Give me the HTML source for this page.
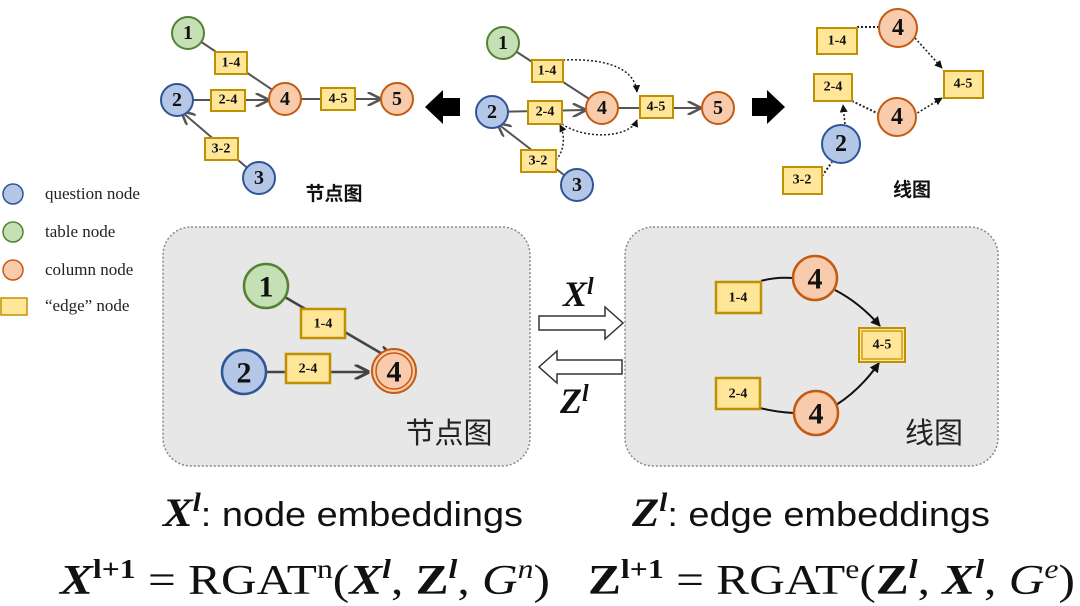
<!DOCTYPE html>
<html><head><meta charset="utf-8"><style>
html,body{margin:0;padding:0;background:#fff;}
svg{display:block;}
.n{font-family:"Liberation Serif",serif;font-weight:bold;text-anchor:middle;dominant-baseline:central;fill:#111;}
.e{font-family:"Liberation Serif",serif;font-weight:bold;text-anchor:middle;dominant-baseline:central;fill:#111;font-size:14px;}
.lg{font-family:"Liberation Serif",serif;font-size:17px;fill:#222;}
.cn{font-family:"Liberation Sans","Noto Sans CJK SC",sans-serif;}
.m{font-family:"Liberation Serif",serif;}
</style></head><body>
<svg width="1080" height="606" viewBox="0 0 1080 606">
<defs>
<marker id="ag" viewBox="0 0 10 10" refX="9" refY="5" markerWidth="7" markerHeight="7" orient="auto"><path d="M0,0 L10,5 L0,10" fill="none" stroke="#555" stroke-width="1.8"/></marker>
<marker id="ab" viewBox="0 0 10 10" refX="9" refY="5" markerWidth="5" markerHeight="5" orient="auto"><path d="M0,0 L10,5 L0,10 z" fill="#111"/></marker>
<marker id="ag2" viewBox="0 0 10 10" refX="9" refY="5" markerWidth="6" markerHeight="6" orient="auto"><path d="M0,0 L10,5 L0,10" fill="none" stroke="#444" stroke-width="2"/></marker>
</defs>

<g>
<circle cx="13" cy="194" r="10" fill="#b4c7e7" stroke="#2f5597" stroke-width="1.5"/><text class="lg" x="45" y="199">question node</text>
<circle cx="13" cy="232" r="10" fill="#c5e0b4" stroke="#548235" stroke-width="1.5"/><text class="lg" x="45" y="237">table node</text>
<circle cx="13" cy="270" r="10" fill="#f8cbad" stroke="#c55a11" stroke-width="1.5"/><text class="lg" x="45" y="275">column node</text>
<rect x="1" y="298" width="26" height="17" fill="#ffe699" stroke="#bf9000" stroke-width="1.5"/><text class="lg" x="45" y="311">“edge” node</text>
</g>

<g stroke-width="2">
<line x1="188" y1="33" x2="283" y2="97" stroke="#555" marker-end="url(#ag)"/>
<line x1="177" y1="100" x2="268" y2="100" stroke="#555" marker-end="url(#ag)"/>
<line x1="285" y1="99" x2="380" y2="99" stroke="#555" marker-end="url(#ag)"/>
<line x1="259" y1="178" x2="182" y2="112" stroke="#555" marker-end="url(#ag)"/>
<rect x="215" y="52" width="32" height="22" fill="#ffe699" stroke="#bf9000"/><text class="e" x="231" y="63">1-4</text>
<rect x="211" y="90" width="34" height="21" fill="#ffe699" stroke="#bf9000"/><text class="e" x="228" y="100">2-4</text>
<rect x="321" y="88" width="34" height="22" fill="#ffe699" stroke="#bf9000"/><text class="e" x="338" y="99">4-5</text>
<rect x="205" y="138" width="33" height="22" fill="#ffe699" stroke="#bf9000"/><text class="e" x="221" y="149">3-2</text>
<circle cx="188" cy="33" r="16" fill="#c5e0b4" stroke="#548235"/><text class="n" x="188" y="33" font-size="20">1</text>
<circle cx="177" cy="100" r="16" fill="#b4c7e7" stroke="#2f5597"/><text class="n" x="177" y="100" font-size="20">2</text>
<circle cx="259" cy="178" r="16" fill="#b4c7e7" stroke="#2f5597"/><text class="n" x="259" y="178" font-size="20">3</text>
<circle cx="285" cy="99" r="16" fill="#f8cbad" stroke="#c55a11"/><text class="n" x="285" y="99" font-size="20">4</text>
<circle cx="397" cy="99" r="16" fill="#f8cbad" stroke="#c55a11"/><text class="n" x="397" y="99" font-size="20">5</text>
<text class="cn" x="334" y="200" font-size="19" font-weight="bold" text-anchor="middle" stroke="none" fill="#111">节点图</text>
</g>
<path d="M425,107 L443,90 L443,98 L460,98 L460,116 L443,116 L443,124 z" fill="#000"/>

<g stroke-width="2">
<line x1="503" y1="43" x2="600" y2="106" stroke="#555" marker-end="url(#ag)"/>
<line x1="492" y1="112" x2="585" y2="110" stroke="#555" marker-end="url(#ag)"/>
<line x1="602" y1="108" x2="700" y2="108" stroke="#555" marker-end="url(#ag)"/>
<line x1="577" y1="185" x2="498" y2="124" stroke="#555" marker-end="url(#ag)"/>
<path d="M563,60 C610,58 635,70 637,92" fill="none" stroke="#222" stroke-width="1.5" stroke-dasharray="2,2" marker-end="url(#ab)"/>
<path d="M562,124 C585,140 630,138 637,120" fill="none" stroke="#222" stroke-width="1.5" stroke-dasharray="2,2" marker-end="url(#ab)"/>
<path d="M556,160 C565,150 565,135 560,125" fill="none" stroke="#222" stroke-width="1.5" stroke-dasharray="2,2" marker-end="url(#ab)"/>
<rect x="532" y="60" width="31" height="22" fill="#ffe699" stroke="#bf9000"/><text class="e" x="547" y="71">1-4</text>
<rect x="528" y="101" width="34" height="23" fill="#ffe699" stroke="#bf9000"/><text class="e" x="545" y="112">2-4</text>
<rect x="640" y="96" width="33" height="22" fill="#ffe699" stroke="#bf9000"/><text class="e" x="656" y="107">4-5</text>
<rect x="521" y="150" width="35" height="22" fill="#ffe699" stroke="#bf9000"/><text class="e" x="538" y="161">3-2</text>
<circle cx="503" cy="43" r="16" fill="#c5e0b4" stroke="#548235"/><text class="n" x="503" y="43" font-size="20">1</text>
<circle cx="492" cy="112" r="16" fill="#b4c7e7" stroke="#2f5597"/><text class="n" x="492" y="112" font-size="20">2</text>
<circle cx="577" cy="185" r="16" fill="#b4c7e7" stroke="#2f5597"/><text class="n" x="577" y="185" font-size="20">3</text>
<circle cx="602" cy="108" r="16" fill="#f8cbad" stroke="#c55a11"/><text class="n" x="602" y="108" font-size="20">4</text>
<circle cx="718" cy="108" r="16" fill="#f8cbad" stroke="#c55a11"/><text class="n" x="718" y="108" font-size="20">5</text>
</g>
<path d="M785,107 L767,90 L767,98 L752,98 L752,116 L767,116 L767,124 z" fill="#000"/>

<g stroke-width="2">
<line x1="857" y1="27" x2="882" y2="27" stroke="#222" stroke-dasharray="2,2"/>
<path d="M915,38 L942,68" stroke="#222" stroke-width="1.6" stroke-dasharray="2,2" marker-end="url(#ab)"/>
<path d="M914,115 L942,98" stroke="#222" stroke-width="1.6" stroke-dasharray="2,2" marker-end="url(#ab)"/>
<line x1="852" y1="101" x2="881" y2="115" stroke="#222" stroke-dasharray="2,2"/>
<path d="M845,124 L843,105" stroke="#222" stroke-width="1.6" stroke-dasharray="2,2" marker-end="url(#ab)"/>
<line x1="822" y1="176" x2="832" y2="162" stroke="#222" stroke-dasharray="2,2"/>
<rect x="817" y="28" width="40" height="26" fill="#ffe699" stroke="#bf9000"/><text class="e" x="837" y="41" font-size="17">1-4</text>
<rect x="814" y="74" width="38" height="27" fill="#ffe699" stroke="#bf9000"/><text class="e" x="833" y="87" font-size="17">2-4</text>
<rect x="944" y="71" width="39" height="27" fill="#ffe699" stroke="#bf9000"/><text class="e" x="963" y="84" font-size="17">4-5</text>
<rect x="783" y="167" width="39" height="27" fill="#ffe699" stroke="#bf9000"/><text class="e" x="802" y="180" font-size="17">3-2</text>
<circle cx="898" cy="28" r="19" fill="#f8cbad" stroke="#c55a11"/><text class="n" x="898" y="28" font-size="24">4</text>
<circle cx="897" cy="117" r="19" fill="#f8cbad" stroke="#c55a11"/><text class="n" x="897" y="117" font-size="24">4</text>
<circle cx="841" cy="144" r="19" fill="#b4c7e7" stroke="#2f5597"/><text class="n" x="841" y="144" font-size="24">2</text>
<text class="cn" x="912" y="196" font-size="19" font-weight="bold" text-anchor="middle" stroke="none" fill="#111">线图</text>
</g>

<g>
<rect x="163" y="227" width="367" height="239" rx="28" fill="#e7e7e7" stroke="#888" stroke-width="1.5" stroke-dasharray="2,2"/>
<line x1="266" y1="286" x2="391" y2="359" stroke="#444" stroke-width="2.5" marker-end="url(#ag2)"/>
<line x1="244" y1="372" x2="368" y2="372" stroke="#444" stroke-width="2.5" marker-end="url(#ag2)"/>
<rect x="301" y="309" width="44" height="29" fill="#ffe699" stroke="#bf9000" stroke-width="2.5"/><text class="e" x="323" y="324" font-size="21">1-4</text>
<rect x="286" y="354" width="44" height="29" fill="#ffe699" stroke="#bf9000" stroke-width="2.5"/><text class="e" x="308" y="369" font-size="21">2-4</text>
<circle cx="266" cy="286" r="22" fill="#c5e0b4" stroke="#548235" stroke-width="2.5"/><text class="n" x="266" y="287" font-size="30">1</text>
<circle cx="244" cy="372" r="22" fill="#b4c7e7" stroke="#2f5597" stroke-width="2.5"/><text class="n" x="244" y="373" font-size="30">2</text>
<circle cx="394" cy="371" r="22" fill="#f8cbad" stroke="#c55a11" stroke-width="2"/><circle cx="394" cy="371" r="18" fill="none" stroke="#c55a11" stroke-width="1.5"/><text class="n" x="394" y="372" font-size="30">4</text>
<text class="cn" x="449" y="443" font-size="29" text-anchor="middle" fill="#222">节点图</text>
</g>

<g>
<path d="M539,316 L605,316 L605,307 L623,323 L605,339 L605,330 L539,330 z" fill="#fff" stroke="#333" stroke-width="1.5"/>
<path d="M622,360 L557,360 L557,351 L539,367 L557,383 L557,374 L622,374 z" fill="#fff" stroke="#333" stroke-width="1.5"/>
<text class="m" x="563" y="306" font-size="36" font-weight="bold" font-style="italic" fill="#111">X<tspan font-size="24" dy="-12">l</tspan></text>
<text class="m" x="560" y="413" font-size="36" font-weight="bold" font-style="italic" fill="#111">Z<tspan font-size="24" dy="-12">l</tspan></text>
</g>

<g>
<rect x="625" y="227" width="373" height="239" rx="28" fill="#e7e7e7" stroke="#888" stroke-width="1.5" stroke-dasharray="2,2"/>
<path d="M761,281 Q775,277 793,278" fill="none" stroke="#111" stroke-width="2"/>
<path d="M760,408 Q775,412 794,413" fill="none" stroke="#111" stroke-width="2"/>
<path d="M835,290 Q860,303 880,326" fill="none" stroke="#111" stroke-width="2" marker-end="url(#ab)"/>
<path d="M836,405 Q860,390 879,363" fill="none" stroke="#111" stroke-width="2" marker-end="url(#ab)"/>
<rect x="716" y="282" width="45" height="31" fill="#ffe699" stroke="#bf9000" stroke-width="2.5"/><text class="e" x="738" y="298" font-size="21">1-4</text>
<rect x="716" y="378" width="44" height="31" fill="#ffe699" stroke="#bf9000" stroke-width="2.5"/><text class="e" x="738" y="394" font-size="21">2-4</text>
<rect x="859" y="328" width="46" height="34" fill="#ffe699" stroke="#bf9000" stroke-width="2"/><rect x="862" y="331" width="40" height="28" fill="none" stroke="#bf9000" stroke-width="1.2"/><text class="e" x="882" y="345" font-size="20">4-5</text>
<circle cx="815" cy="278" r="22" fill="#f8cbad" stroke="#c55a11" stroke-width="2.5"/><text class="n" x="815" y="279" font-size="30">4</text>
<circle cx="816" cy="413" r="22" fill="#f8cbad" stroke="#c55a11" stroke-width="2.5"/><text class="n" x="816" y="414" font-size="30">4</text>
<text class="cn" x="934" y="443" font-size="29" text-anchor="middle" fill="#222">线图</text>
</g>

<g>
<text x="163" y="526" fill="#111" textLength="360" lengthAdjust="spacingAndGlyphs"><tspan class="m" font-size="40" font-weight="bold" font-style="italic">X</tspan><tspan class="m" font-size="26" font-weight="bold" font-style="italic" dy="-15">l</tspan><tspan font-family="Liberation Sans,sans-serif" font-size="34" dy="15">: node embeddings</tspan></text>
<text x="632" y="526" fill="#111" textLength="358" lengthAdjust="spacingAndGlyphs"><tspan class="m" font-size="40" font-weight="bold" font-style="italic">Z</tspan><tspan class="m" font-size="26" font-weight="bold" font-style="italic" dy="-15">l</tspan><tspan font-family="Liberation Sans,sans-serif" font-size="34" dy="15">: edge embeddings</tspan></text>
</g>
<g>
<text class="m" x="60" y="594" fill="#111" font-size="42" textLength="490" lengthAdjust="spacingAndGlyphs"><tspan font-weight="bold" font-style="italic">X</tspan><tspan font-size="27" font-weight="bold" dy="-16">l+1</tspan><tspan dy="16"> = RGAT</tspan><tspan font-size="27" dy="-16">n</tspan><tspan dy="16">(</tspan><tspan font-weight="bold" font-style="italic">X</tspan><tspan font-size="27" font-weight="bold" font-style="italic" dy="-16">l</tspan><tspan dy="16">, </tspan><tspan font-weight="bold">Z</tspan><tspan font-size="27" font-weight="bold" font-style="italic" dy="-16">l</tspan><tspan dy="16">, </tspan><tspan font-style="italic">G</tspan><tspan font-size="27" font-style="italic" dy="-16">n</tspan><tspan dy="16">)</tspan></text>
<text class="m" x="588" y="594" fill="#111" font-size="42" textLength="487" lengthAdjust="spacingAndGlyphs"><tspan font-weight="bold">Z</tspan><tspan font-size="27" font-weight="bold" dy="-16">l+1</tspan><tspan dy="16"> = RGAT</tspan><tspan font-size="27" dy="-16">e</tspan><tspan dy="16">(</tspan><tspan font-weight="bold">Z</tspan><tspan font-size="27" font-weight="bold" font-style="italic" dy="-16">l</tspan><tspan dy="16">, </tspan><tspan font-weight="bold" font-style="italic">X</tspan><tspan font-size="27" font-weight="bold" font-style="italic" dy="-16">l</tspan><tspan dy="16">, </tspan><tspan font-style="italic">G</tspan><tspan font-size="27" font-style="italic" dy="-16">e</tspan><tspan dy="16">)</tspan></text>
</g>
</svg>
</body></html>
